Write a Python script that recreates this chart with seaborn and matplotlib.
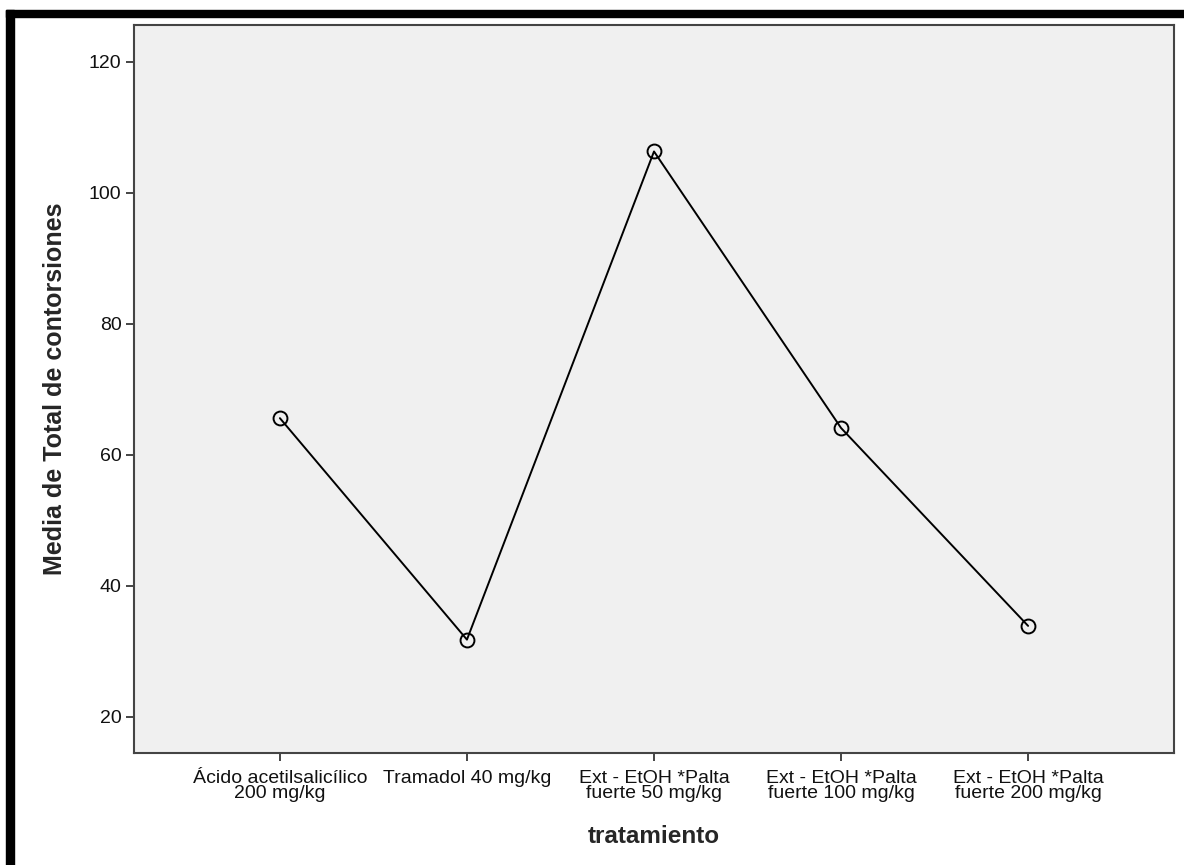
import matplotlib
matplotlib.use("Agg")
import matplotlib.pyplot as plt
import seaborn as sns
import pandas as pd
from matplotlib.patches import Rectangle

categories = ["Ácido acetilsalicílico\n200 mg/kg", "Tramadol 40 mg/kg",
              "Ext - EtOH *Palta\nfuerte 50 mg/kg", "Ext - EtOH *Palta\nfuerte 100 mg/kg",
              "Ext - EtOH *Palta\nfuerte 200 mg/kg"]
values = [65.6, 31.8, 106.3, 64.1, 33.9]
yticks = [20, 40, 60, 80, 100, 120]

sns.set_theme(style="white")
plt.rcParams['font.family'] = ['Liberation Sans', 'DejaVu Sans']

df = pd.DataFrame({"tratamiento": range(len(categories)), "media": values})

fig = plt.figure(figsize=(11.84, 8.65), dpi=100)
ax = fig.add_axes([134/1184, 1-753/865, (1174-134)/1184, (753-25)/865])
ax.set_facecolor("#f0f0f0")

sns.lineplot(data=df, x="tratamiento", y="media", ax=ax, color="black", linewidth=1.4,
             marker="o", markersize=10, markerfacecolor="none", markeredgecolor="black",
             markeredgewidth=1.4)

ax.set_xlim(-0.78, 4.78)
ax.set_ylim(14.5, 125.6)
ax.set_xticks(range(len(categories)))
ax.set_xticklabels(categories, fontsize=14, linespacing=0.9)
ax.set_yticks(yticks)
ax.set_yticklabels([str(t) for t in yticks], fontsize=14)
ax.tick_params(axis="both", direction="out", length=6, width=1.4, color="#444444",
               labelcolor="#111111", pad=3, left=True, bottom=True)
ax.tick_params(axis="x", pad=6)
for s in ax.spines.values():
    s.set_color("#444444")
    s.set_linewidth(1.5)

ax.set_xlabel("tratamiento", fontsize=17.5, fontweight="bold", labelpad=16)
ax.set_ylabel("Media de Total de contorsiones", fontsize=18, fontweight="bold", labelpad=16)

# black frame (top and left)
fig.patches.append(Rectangle((6/1184, 1-17/865), 1, 7/865, transform=fig.transFigure,
                             color="black", zorder=10))
fig.patches.append(Rectangle((6/1184, 0), 8/1184, 1-10/865, transform=fig.transFigure,
                             color="black", zorder=10))

fig.savefig("out.png", dpi=100)
